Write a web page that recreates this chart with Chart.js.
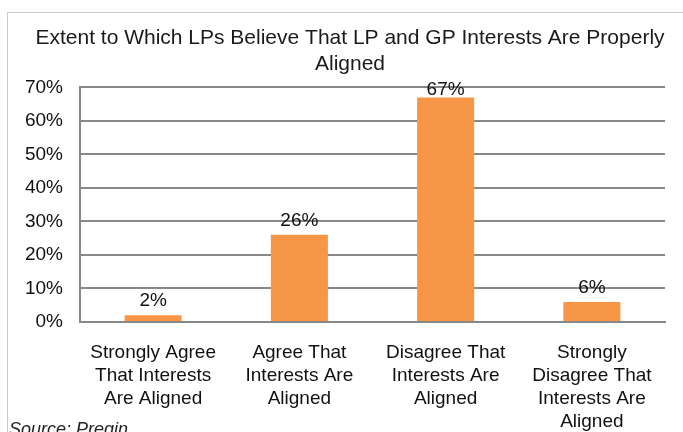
<!DOCTYPE html>
<html>
<head>
<meta charset="utf-8">
<script src="https://cdn.jsdelivr.net/npm/chart.js"></script>
<style>
  html, body { margin: 0; padding: 0; background: #fff; overflow: hidden; }
  #wrap { position: relative; width: 683px; height: 432px; overflow: hidden; }
  #frame { position: absolute; left: 7px; top: 12px; width: 700px; height: 460px; border: 1px solid #c9c9c9; }
  #chart { position: absolute; left: 0; top: 0; }
  #source { position: absolute; left: 9px; top: 419px; font: italic 18px "Liberation Sans", Arial, sans-serif; color: #222; }
</style>
</head>
<body>
<div id="wrap">
  <div id="frame"></div>
  <canvas id="chart" width="683" height="432"></canvas>
  <div id="source">Source: Preqin</div>
</div>
<script>
const categories = [
    ["Strongly Agree", "That Interests", "Are Aligned"],
    ["Agree That", "Interests Are", "Aligned"],
    ["Disagree That", "Interests Are", "Aligned"],
    ["Strongly", "Disagree That", "Interests Are", "Aligned"]
];
const shares = [2, 26, 67, 6];
const yTicks = [0, 10, 20, 30, 40, 50, 60, 70];

const FONT = "'Liberation Sans', Arial, sans-serif";

// value labels above the bars (kept inside the plot area like Excel does)
const valueLabels = {
    id: "valueLabels",
    afterDatasetsDraw(chart) {
        const ctx = chart.ctx;
        const meta = chart.getDatasetMeta(0);
        const minY = chart.chartArea.top + 8;
        ctx.save();
        ctx.font = "19px " + FONT;
        ctx.fillStyle = "#111";
        ctx.textAlign = "center";
        ctx.textBaseline = "alphabetic";
        meta.data.forEach((bar, i) => {
            ctx.fillText(shares[i] + "%", bar.x, Math.max(bar.y - 9, minY));
        });
        ctx.restore();
    }
};

// the title sits centred over the frame, not over the whole canvas
const shiftTitle = {
    id: "shiftTitle",
    afterLayout(chart) {
        if (chart.titleBlock) chart.titleBlock.left = 35;
    }
};

new Chart(document.getElementById("chart"), {
    type: "bar",
    data: {
        labels: categories,
        datasets: [{
            data: shares,
            backgroundColor: "#F79646",
            borderWidth: 0,
            categoryPercentage: 1,
            barPercentage: 0.39
        }]
    },
    options: {
        responsive: false,
        animation: false,
        layout: { padding: { left: 0, right: 18, top: 0, bottom: 0 } },
        plugins: {
            legend: { display: false },
            tooltip: { enabled: false },
            title: {
                display: true,
                text: ["Extent to Which LPs Believe That LP and GP Interests Are Properly", "Aligned"],
                color: "#1a1a1a",
                font: { family: FONT, size: 21, weight: "normal", lineHeight: 1.2 },
                padding: { top: 26, bottom: 11 }
            }
        },
        scales: {
            x: {
                grid: { display: false, drawTicks: false },
                border: { color: "#888", width: 2 },
                ticks: {
                    color: "#111",
                    font: { family: FONT, size: 19, lineHeight: 1.22 },
                    padding: 19,
                    maxRotation: 0,
                    autoSkip: false
                },
                afterFit(scale) { scale.height = 110; }
            },
            y: {
                min: 0,
                max: 70,
                afterBuildTicks(scale) { scale.ticks = yTicks.map(v => ({ value: v })); },
                grid: { color: "#888", lineWidth: 2, drawTicks: false },
                border: { color: "#888", width: 2 },
                ticks: {
                    color: "#111",
                    font: { family: FONT, size: 19 },
                    padding: 17,
                    callback: v => v + "%"
                },
                afterFit(scale) { scale.width = 80; }
            }
        }
    },
    plugins: [valueLabels, shiftTitle]
});
</script>
</body>
</html>
